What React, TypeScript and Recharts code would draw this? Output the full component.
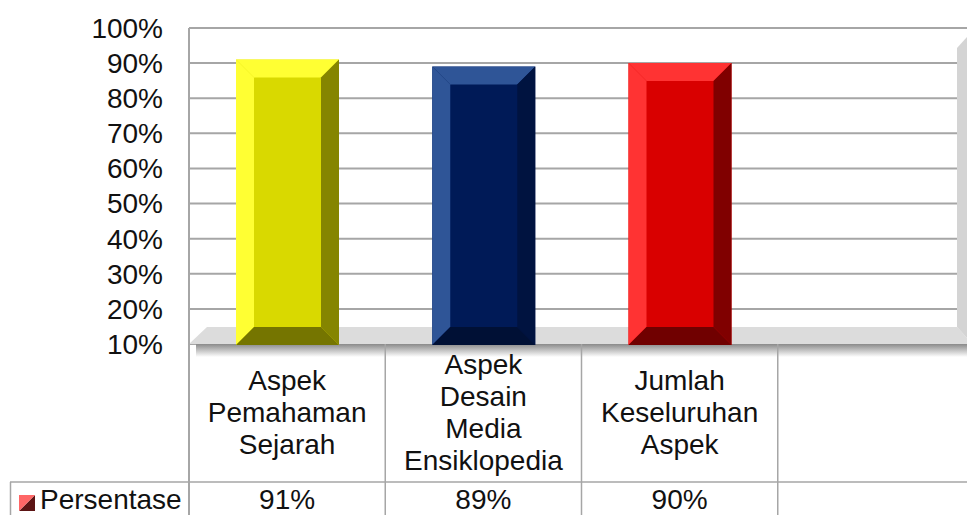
import React from "react";
import { BarChart, Bar, XAxis, YAxis, CartesianGrid } from "recharts";

const categoryLines = [
  ["Aspek", "Pemahaman", "Sejarah"],
  ["Aspek", "Desain", "Media", "Ensiklopedia"],
  ["Jumlah", "Keseluruhan", "Aspek"],
  [],
];
const values = [91, 89, 90, null];
const yTicks = [10, 20, 30, 40, 50, 60, 70, 80, 90, 100];
const seriesName = "Persentase";

const barColors = [
  { light: "#ffff33", face: "#d9d900", side: "#858500", bottom: "#757500" },
  { light: "#2f5597", face: "#001a57", side: "#001340", bottom: "#001035" },
  { light: "#ff3333", face: "#d90000", side: "#800000", bottom: "#700000" },
];

const data = categoryLines.map((lines, i) => ({ key: i, lines, value: values[i] }));

const GRID = "#a6a6a6";
const TEXT = "#111111";
const FONT = "'Liberation Sans', Arial, sans-serif";
const FONT_SIZE = 28;
const BEVEL = 18;

const BeveledBar = (props: any) => {
  const { x, y, width, height, index } = props;
  const c = barColors[index];
  if (!c) return null;
  const r = x + width;
  const b = y + height + 1;
  const ix = x + BEVEL;
  const ir = r - BEVEL;
  const iy = y + BEVEL;
  const ib = b - BEVEL;
  return (
    <g>
      <rect x={x} y={y} width={width} height={height + 1} fill={c.face} />
      <polygon points={`${x},${y} ${r},${y} ${ir},${iy} ${ix},${iy}`} fill={c.light} />
      <polygon points={`${x},${y} ${ix},${iy} ${ix},${ib} ${x},${b}`} fill={c.light} />
      <polygon points={`${r},${y} ${r},${b} ${ir},${ib} ${ir},${iy}`} fill={c.side} />
      <polygon points={`${x},${b} ${ix},${ib} ${ir},${ib} ${r},${b}`} fill={c.bottom} />
    </g>
  );
};

const TableTick = (props: any) => {
  const { x, y, index } = props;
  const lines: string[] = categoryLines[index] || [];
  const value = values[index];
  const half = 196.25 / 2;
  const top = y + 60 - ((lines.length - 1) * 32) / 2 + 10;
  return (
    <g>
      <line x1={x + half} x2={x + half} y1={344} y2={515} stroke={GRID} strokeWidth={1.5} />
      {lines.map((t, i) => (
        <text key={t + i} x={x} y={top + i * 32} textAnchor="middle" fontSize={FONT_SIZE} fontFamily={FONT} fill={TEXT}>
          {t}
        </text>
      ))}
      {value != null && (
        <text x={x} y={509} textAnchor="middle" fontSize={FONT_SIZE} fontFamily={FONT} fill={TEXT}>
          {value}%
        </text>
      )}
    </g>
  );
};

export default function App() {
  return (
    <div style={{ position: "fixed", left: 0, top: 0, width: 967, height: 515, overflow: "hidden", background: "#fff" }}>
      <BarChart
        width={974}
        height={515}
        data={data}
        barSize={103}
        margin={{ top: 28, right: 0, bottom: 0, left: 0 }}
      >
        <defs>
          <linearGradient id="floorShadow" x1="0" y1="0" x2="0" y2="1">
            <stop offset="0%" stopColor="#8a8a8a" />
            <stop offset="100%" stopColor="#ffffff" />
          </linearGradient>
        </defs>

        {/* floor and side wall */}
        <rect x={196} y={344} width={778} height={13} fill="url(#floorShadow)" />
        <polygon points="189,344 207,327 957,327 967,338 967,344" fill="#dcdcdc" />
        <polygon points="957,48 967,37 967,338 957,327" fill="#d4d4d4" />

        <CartesianGrid vertical={false} stroke={GRID} strokeWidth={2} />
        <XAxis
          dataKey="key"
          axisLine={false}
          tickLine={false}
          height={171}
          interval={0}
          tick={<TableTick />}
        />
        <YAxis
          width={189}
          domain={[10, 100]}
          ticks={yTicks}
          interval={0}
          tickLine={false}
          tickMargin={20}
          axisLine={{ stroke: GRID, strokeWidth: 2 }}
          tickFormatter={(v) => `${v}%`}
          tick={{ fill: TEXT, fontSize: FONT_SIZE, fontFamily: FONT }}
        />
        <Bar dataKey="value" isAnimationActive={false} shape={<BeveledBar />} />

        {/* data table frame */}
        <line x1={189} x2={189} y1={344} y2={515} stroke={GRID} strokeWidth={2} />
        <line x1={10} x2={974} y1={482} y2={482} stroke={GRID} strokeWidth={1.5} />
        <line x1={10.5} x2={10.5} y1={482} y2={515} stroke={GRID} strokeWidth={1.5} />
        <polygon points="19,511 35,495 35,511" fill="#5c1414" />
        <polygon points="19,495 35,495 19,511" fill="#ff6666" />
        <text x={40} y={509} fontSize={FONT_SIZE} fontFamily={FONT} fill={TEXT}>
          {seriesName}
        </text>
      </BarChart>
    </div>
  );
}
